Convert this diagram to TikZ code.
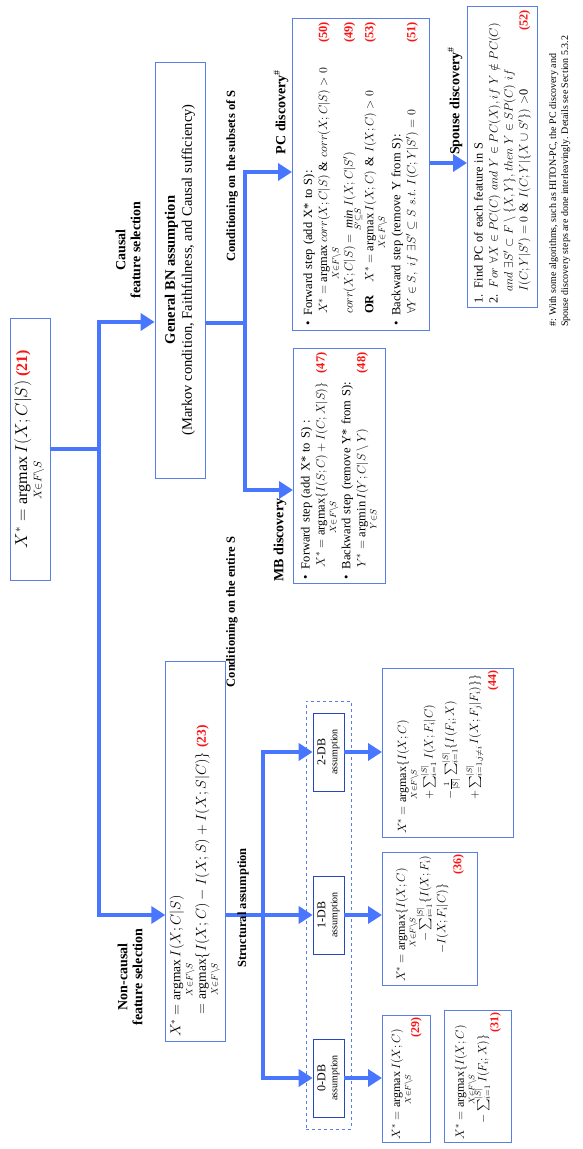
\documentclass[tikz,border=0pt]{standalone}
\usepackage{amsmath,amssymb}
\usepackage{fontspec}
\setmainfont{Liberation Serif}
\usetikzlibrary{arrows.meta}

\definecolor{flowblue}{RGB}{72,118,255}
\definecolor{boxblue}{RGB}{88,128,228}
\definecolor{dbblue}{RGB}{40,70,190}
\definecolor{numred}{RGB}{250,20,20}

\newcommand{\eqlab}[1]{\textcolor{numred}{\textbf{(#1)}}}
\newcommand{\argmaxop}{\mathop{\mathrm{argmax}}\limits}
\newcommand{\argminop}{\mathop{\mathrm{argmin}}\limits}
\newcommand{\minop}{\mathop{\mathit{min}}\limits}

\begin{document}
\begin{tikzpicture}
[
x=1pt,y=1pt,rotate=90,transform shape,
flow/.style={draw=flowblue,line width=4pt},
arrowend/.style={-{Triangle[length=14pt,width=17pt]}},
arrowboth/.style={{Triangle[length=14pt,width=17pt]}-{Triangle[length=14pt,width=17pt]}},
box/.style={draw=boxblue,line width=0.8pt,align=left,inner sep=4pt,font=\fontsize{12.5}{15}\selectfont},
resbox/.style={box,anchor=north,inner xsep=3pt,font=\fontsize{12}{15}\selectfont},
dbbox/.style={draw=dbblue,line width=0.7pt,align=center,inner sep=1pt,minimum width=78pt,minimum height=31pt,font=\fontsize{12}{12}\selectfont},
title/.style={font=\bfseries\fontsize{14}{15}\selectfont,align=center},
cond/.style={font=\bfseries\fontsize{12.5}{14}\selectfont},
foot/.style={font=\fontsize{10}{12}\selectfont,align=left,inner sep=0pt},
]
\useasboundingbox (0,0) rectangle (1149,-582);

%Top of the tree
\node[box,align=center,minimum width=262pt,minimum height=40pt,font=\fontsize{16}{18}\selectfont] (top) at (700,-30)
  {$X^* = \argmaxop_{X\in F\setminus S} I(X;C|S)$\ \eqlab{21}};
\node[title] (ctitle) at (899,-128) {Causal\\feature selection};
\node[title] (nctitle) at (172,-130) {Non-causal\\feature selection};

\node[box,align=center,minimum width=416pt,minimum height=50pt,font=\fontsize{14.5}{17}\selectfont] (bn) at (879,-180)
  {\textbf{General BN assumption}\\(Markov condition, Faithfulness, and Causal sufficiency)};
\node[box,text width=372pt,minimum height=57pt,font=\fontsize{13.5}{16}\selectfont] (nc) at (298,-195.5)
  {$X^* = \argmaxop_{X\in F\setminus S} I(X;C|S)$\\[-2pt]
   \hphantom{$X^*$}\ $= \argmaxop_{X\in F\setminus S}\{I(X;C) - I(X;S) + I(X;S|C)\}$\ \eqlab{23}};

\coordinate (jn) at (234,-99);
\coordinate (jc) at (827,-99);
\draw[flow] (top.south) -- (top.south |- jc);
\draw[flow,arrowboth] (nc.north -| jn) -- (jn) -- (jc) -- (bn.north -| jc);

%Causal branch
\node[box,anchor=north,text width=227pt,minimum height=92pt] (mb) at (683,-293)
  {\textbullet\hspace{6pt}Forward step (add X* to S) :\\
   \hspace*{12pt}$X^* = \argmaxop_{X\in F\setminus S}\{I(S;C) + I(C;X|S)\}$\hfill\eqlab{47}\\[1pt]
   \textbullet\hspace{6pt}Backward step (remove Y* from S):\\
   \hspace*{12pt}$Y^* = \argminop_{Y\in S} I(Y;C|S\setminus Y)$\hfill\eqlab{48}};
\node[box,anchor=north,text width=304pt,minimum height=137pt,inner ysep=2pt] (pc) at (975,-292)
  {\textbullet\hspace{6pt}Forward step (add X* to S):\\
   \hspace*{12pt}\mbox{$X^* = \argmaxop_{X\in F\setminus S} corr(X;C|S)\ \&\ corr(X;C|S) > 0$}\hfill\eqlab{50}\\
   \hspace*{12pt}\mbox{$corr(X;C|S) = \minop_{S'\subseteq S} I(X;C|S')$}\hfill\eqlab{49}\\
   \hspace*{12pt}\textbf{OR}\quad \mbox{$X^* = \argmaxop_{X\in F\setminus S} I(X;C)\ \&\ I(X;C) > 0$}\hfill\eqlab{53}\\[2pt]
   \textbullet\hspace{6pt}Backward step (remove Y from S):\\
   \hspace*{12pt}\mbox{$\forall Y\in S,\ if\ \exists S'\subseteq S\ s.t.\ I(C;Y|S') = 0$}\hfill\eqlab{51}};
\node[box,anchor=north,text width=293pt,minimum height=70pt,inner ysep=2pt,font=\fontsize{12.3}{15}\selectfont] (sp) at (992,-467)
  {1. Find PC of each feature in S\\
   2. $For\ \forall X\in PC(C)\ and\ Y\in PC(X), if\ Y\notin PC(C)$\\
   \hspace*{12pt}$and\ \exists S'\subset F\setminus\{X,Y\}, then\ Y\in SP(C)\ if$\\
   \hspace*{12pt}$I(C;Y|S') = 0\ \&\ I(C;Y|\{X\cup S'\})$ $>$0\hfill\eqlab{52}};

\node[title] (mbt) at (609,-280) {MB discovery};
\node[title] (pct) at (1037,-281) {PC discovery$^{\#}$};
\node[title] (spt) at (1048,-455) {Spouse discovery$^{\#}$};
\node[cond] (sub) at (973,-232) {Conditioning on the subsets of S};
\node[cond] (ent) at (537,-232) {Conditioning on the entire S};

\coordinate (bnout) at (826,-245);
\coordinate (jmb) at (659,-245);
\coordinate (jpc) at (977,-245);
\coordinate (psx) at (986,-440);
\draw[flow] (bn.south -| bnout) -- (bnout);
\draw[flow,arrowboth] (mb.north -| jmb) -- (jmb) -- (jpc) -- (pc.north -| jpc);
\draw[flow,arrowend] (pc.south -| psx) -- (sp.north -| psx);

%Non-causal branch
\node[dbbox] (db0) at (71,-328.5) {0-DB\\{\fontsize{10}{11}\selectfont assumption}};
\node[dbbox] (db1) at (234,-328.5) {1-DB\\{\fontsize{10}{11}\selectfont assumption}};
\node[dbbox] (db2) at (397,-328.5) {2-DB\\{\fontsize{10}{11}\selectfont assumption}};
\draw[draw=boxblue,line width=0.8pt,dashed] (20,-306) rectangle (448,-351);

\coordinate (jdb) at (234,-263);
\draw[flow,arrowend] (nc.south -| db1) -- (db1.north);
\draw[flow,arrowboth] (db0.north) -- (db0.north |- jdb) -- (db2.north |- jdb) -- (db2.north);
\node[cond] (struct) at (241,-243) {Structural assumption};

\node[resbox,text width=121pt,minimum height=48pt] (r29) at (70.5,-382)
  {\mbox{$X^* = \argmaxop_{X\in F\setminus S} I(X;C)$}\\[-4pt]\hfill\eqlab{29}\hspace*{8pt}};
\node[resbox,text width=126pt,minimum height=67pt,inner ysep=2pt] (r31) at (73,-444)
  {\mbox{$X^* = \argmaxop_{X\in F\setminus S}\{I(X;C)$}\\[-4pt]
   \hspace*{16pt}\mbox{$-\sum_{i=1}^{|S|} I(F_i;X)\}$}\\[-3pt]
   \hfill\eqlab{31}\hspace*{4pt}};
\node[resbox,text width=127pt,minimum height=95pt] (r36) at (230.5,-382)
  {\mbox{$X^* = \argmaxop_{X\in F\setminus S}\{I(X;C)$}\\[-3pt]
   \hspace*{40pt}\mbox{$-\sum_{i=1}^{|S|}\{I(X;F_i)$}\\[2pt]
   \hspace*{28pt}\mbox{$-I(X;F_i|C)\}$}\\[1pt]
   \hfill\eqlab{36}\hspace*{18pt}};
\node[resbox,text width=163pt,minimum height=131pt] (r44) at (396.5,-382)
  {\mbox{$X^* = \argmaxop_{X\in F\setminus S}\{I(X;C)$}\\[0pt]
   \hspace*{34pt}\mbox{$+\sum_{i=1}^{|S|} I(X;F_i|C)$}\\[5pt]
   \hspace*{34pt}\mbox{$-\frac{1}{|S|}\sum_{i=1}^{|S|}\{I(F_i;X)$}\\[5pt]
   \hspace*{34pt}\mbox{$+\sum_{i=1,j\neq i}^{|S|} I(X;F_j|F_i)\}\}$}\\[3pt]
   \hfill\eqlab{44}\hspace*{8pt}};

\draw[flow,arrowend] (db0.south) -- (db0.south |- r29.north);
\draw[flow,arrowend] (db1.south) -- (db1.south |- r36.north);
\draw[flow,arrowend] (db2.south) -- (db2.south |- r44.north);

%Footnote
\node[foot,anchor=north west] (fn) at (822,-549)
  {\#: With some algorithms, such as HITON-PC, the PC discovery and\\
   Spouse discovery steps are done interleavingly. Details see Section 5.3.2};
\end{tikzpicture}
\end{document}
